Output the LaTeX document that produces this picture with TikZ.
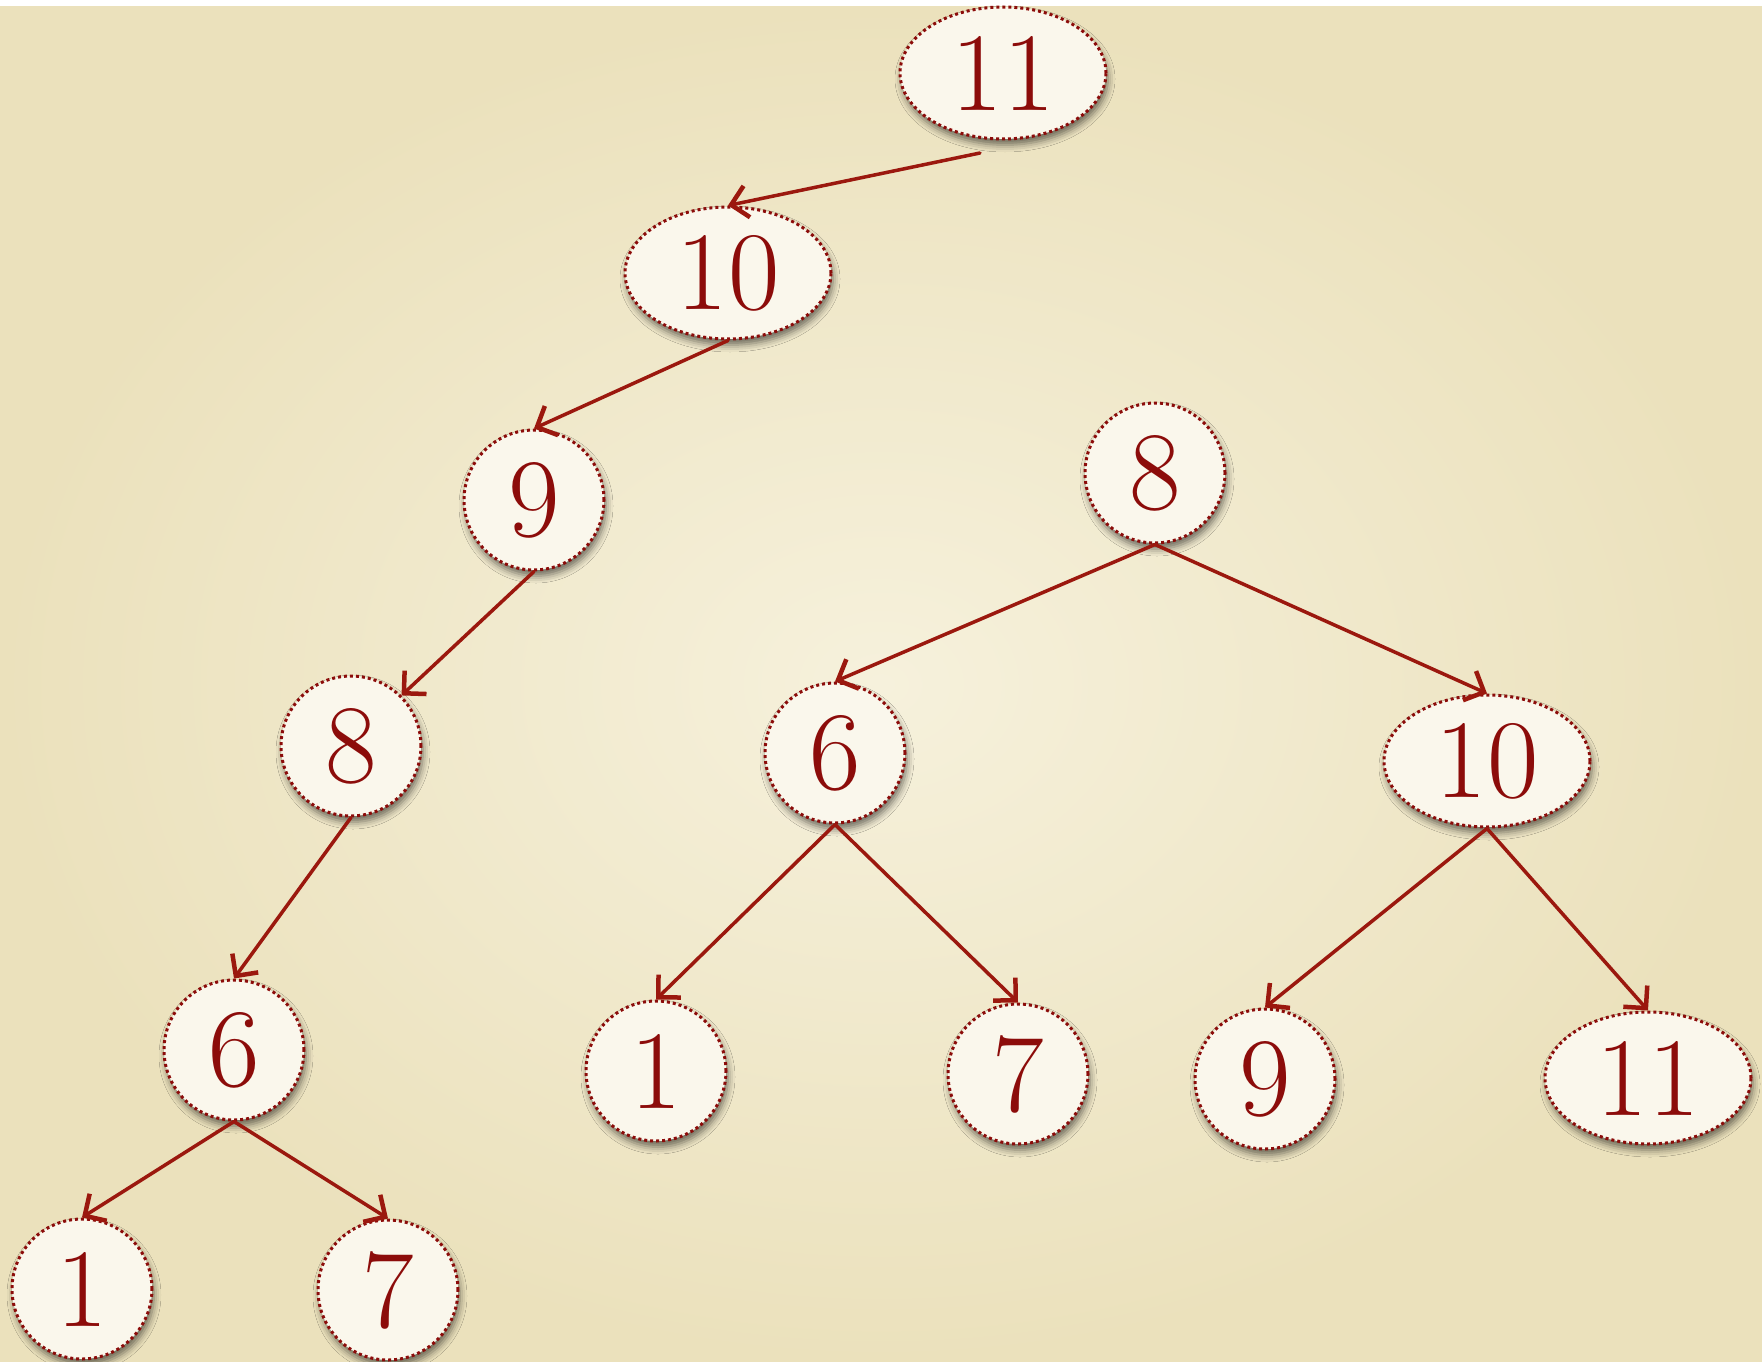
\documentclass[tikz,border=0pt]{standalone}
\usetikzlibrary{arrows.meta,shadows.blur,shapes.geometric}
\definecolor{parchlight}{RGB}{246,241,220}
\definecolor{parchdark}{RGB}{235,225,188}
\definecolor{cream}{RGB}{250,247,236}
\definecolor{dred}{RGB}{140,12,10}
\definecolor{ared}{RGB}{155,24,14}
\begin{document}
\begin{tikzpicture}[x=1pt,y=-1pt,
  nd/.style={circle, minimum size=140pt, inner sep=0pt, fill=cream, draw=dred,
    line width=3pt, dash pattern=on 3pt off 3pt, text=dred,
    font=\fontsize{112}{112}\selectfont,
    blur shadow={shadow xshift=2pt, shadow yshift=-6pt, shadow blur radius=7pt, shadow opacity=55}},
  ndell/.style={nd, ellipse, minimum width=206pt, minimum height=132pt},
  arr/.style={draw=ared, line width=3.5pt, line cap=round,
    -{Straight Barb[length=16pt,width=32pt,line width=4.5pt]}}
]
\useasboundingbox (0,0) rectangle (1762,1362);
\fill[white] (0,0) rectangle (1762,1362);
\shade[inner color=parchlight, outer color=parchdark] (0,7) rectangle (1762,1362);

% left chain
\node[ndell] (t11) at (1003,73) {11};
\node[ndell] (t10) at (728,273) {10};
\node[nd] (t9) at (534,500) {9};
\node[nd] (t8) at (351,746) {8};
\node[nd] (t6) at (234,1050) {6};
\node[nd] (t1) at (82,1289) {1};
\node[nd] (t7) at (388,1290) {7};

% right tree
\node[nd] (r8) at (1155,473) {8};
\node[nd] (r6) at (835,753) {6};
\node[ndell] (r10) at (1487,761) {10};
\node[nd] (r1) at (656,1071) {1};
\node[nd] (r7) at (1018,1074) {7};
\node[nd] (r9) at (1265,1079) {9};
\node[ndell] (r11) at (1648,1078) {11};

\coordinate (s0) at (980,153);
\draw[arr] (s0) -- (t10.north);
\draw[arr] (t10.south) -- (t9.north);
\draw[arr] (t9.south) -- (t8.45);
\draw[arr] (t8.south) -- (t6.north);
\draw[arr] (t6.south) -- (t1.north);
\draw[arr] (t6.south) -- (t7.north);

\draw[arr] (r8.south) -- (r6.north);
\draw[arr] (r8.south) -- (r10.north);
\draw[arr] (r6.south) -- (r1.north);
\draw[arr] (r6.south) -- (r7.north);
\draw[arr] (r10.south) -- (r9.north);
\draw[arr] (r10.south) -- (r11.north);
\end{tikzpicture}
\end{document}
